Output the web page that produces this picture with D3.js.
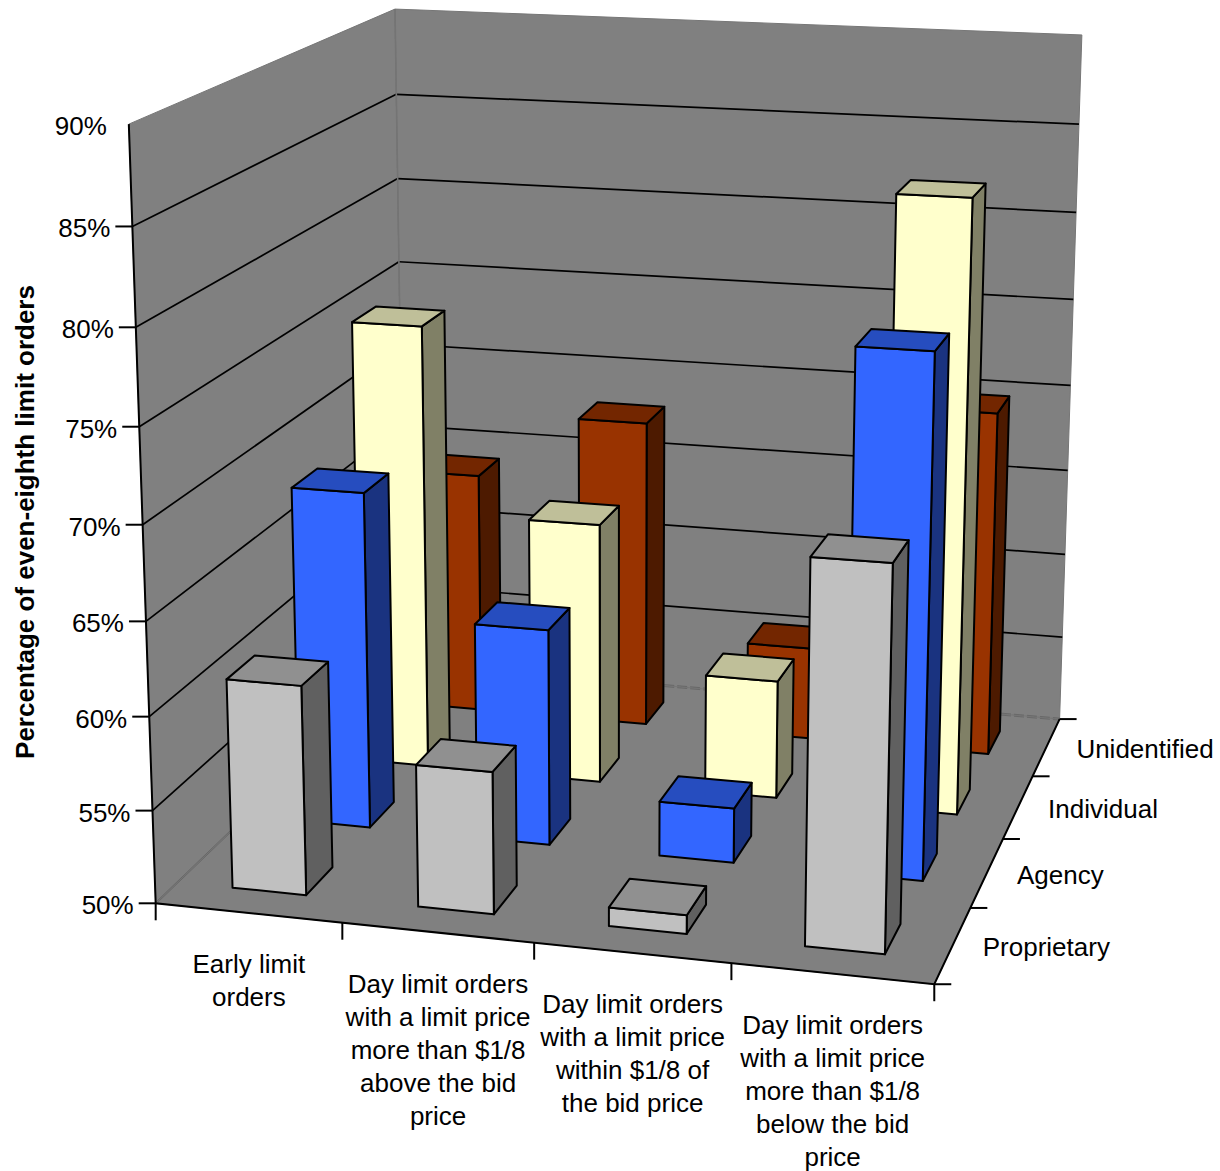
<!DOCTYPE html>
<html>
<head>
<meta charset="utf-8">
<script src="https://cdn.jsdelivr.net/npm/d3@7"></script>
<style>
html,body{margin:0;padding:0;background:#fff}
svg{display:block}
text{font-family:"Liberation Sans",Arial,sans-serif;fill:#000}
</style>
</head>
<body>
<svg id="chart" width="1220" height="1171"></svg>
<script>
// Chart content
const categories = [
  ["Early limit", "orders"],
  ["Day limit orders", "with a limit price", "more than $1/8", "above the bid", "price"],
  ["Day limit orders", "with a limit price", "within $1/8 of", "the bid price"],
  ["Day limit orders", "with a limit price", "more than $1/8", "below the bid", "price"]
];
const seriesNames = ["Proprietary", "Agency", "Individual", "Unidentified"];
const proprietary = [61.25, 57.6, 51, 70];
const agency = [68.6, 61.9, 53, 78.05];
const individual = [75.3, 64.8, 56.7, 83.9];
const unidentified = [64.2, 68, 55.4, 69.9];
const valueTicks = [50, 55, 60, 65, 70, 75, 80, 85, 90];
const axisTitle = "Percentage of even-eighth limit orders";

const seriesValues = [proprietary, agency, individual, unidentified];
const faceColors = [
  {front: "#c0c0c0", side: "#606060", top: "#909090"},
  {front: "#3366ff", side: "#1a3380", top: "#264dbf"},
  {front: "#ffffcc", side: "#808066", top: "#bfbf99"},
  {front: "#993300", side: "#4d1a00", top: "#732600"}
];
const WALL = "#808080";

// Scales into the unit cube of the plot box
const xBand = d3.scaleBand().domain(d3.range(4)).range([0, 1]).paddingInner(0.6).paddingOuter(0.3);
const yBand = d3.scaleBand().domain(d3.range(4)).range([0, 1]).paddingInner(0.6).paddingOuter(0.3);
const zScale = d3.scaleLinear().domain([50, 90]).range([0, 1]);

// Camera: a 3x4 projective matrix fitted by least squares to known points of the box.
// The front corner of the value axis is listed with extra weight.
const frontBottom = [0, 0, 0, 156, 903], frontTop = [0, 0, 1, 128, 124];
const boxPoints = [
  frontBottom, frontBottom, frontBottom, frontBottom, frontTop, frontTop, frontTop,
  [1, 0, 0, 934, 985], [1, 1, 0, 1060, 717], [0, 1, 0, 401, 665],
  [0, 1, 1, 396, 8], [1, 1, 1, 1083, 34],
  [0, 0, 0.125, 153, 811], [0, 0, 0.25, 150, 717], [0, 0, 0.375, 146, 621], [0, 0, 0.875, 132, 227],
  [0, 1, 0.875, 397, 95], [0, 1, 0.75, 399, 179], [0, 1, 0.625, 400, 261],
  [1, 1, 0.875, 1078, 125], [1, 1, 0.75, 1075, 213], [1, 1, 0.625, 1072, 300],
  [0.25, 0, 0, 344, 922], [0.5, 0, 0, 533, 943], [0.75, 0, 0, 730, 964],
  [1, 0.25, 0, 970, 907], [1, 0.5, 0, 1005, 839], [1, 0.75, 0, 1034, 777]
];
function solve(A, b) {
  const n = b.length, M = A.map((r, i) => [...r, b[i]]);
  for (let c = 0; c < n; c++) {
    let p = c;
    for (let r = c + 1; r < n; r++) if (Math.abs(M[r][c]) > Math.abs(M[p][c])) p = r;
    [M[c], M[p]] = [M[p], M[c]];
    for (let r = 0; r < n; r++) {
      if (r === c) continue;
      const f = M[r][c] / M[c][c];
      for (let k = c; k <= n; k++) M[r][k] -= f * M[c][k];
    }
  }
  return M.map((r, i) => r[n] / r[i]);
}
function fitCamera(pts) {
  const rows = [], rhs = [];
  pts.forEach(([X, Y, Z, u0, v0]) => {
    const u = u0 / 1000, v = v0 / 1000;
    rows.push([X, Y, Z, 1, 0, 0, 0, 0, -u * X, -u * Y, -u * Z]); rhs.push(u);
    rows.push([0, 0, 0, 0, X, Y, Z, 1, -v * X, -v * Y, -v * Z]); rhs.push(v);
  });
  const N = d3.range(11).map(i => d3.range(11).map(j => d3.sum(rows, r => r[i] * r[j])));
  const B = d3.range(11).map(i => d3.sum(rows, (r, k) => r[i] * rhs[k]));
  return solve(N, B);
}
const cam = fitCamera(boxPoints);
function project(X, Y, Z) {
  const w = cam[8] * X + cam[9] * Y + cam[10] * Z + 1;
  return [
    1000 * (cam[0] * X + cam[1] * Y + cam[2] * Z + cam[3]) / w,
    1000 * (cam[4] * X + cam[5] * Y + cam[6] * Z + cam[7]) / w
  ];
}

const svg = d3.select("#chart");
const outline = d3.line();
const poly = pts => outline(pts) + "Z";

// Walls and floor
const walls = svg.append("g");
const wallFaces = [
  [[0,0,0],[0,1,0],[0,1,1],[0,0,1]],
  [[0,1,0],[1,1,0],[1,1,1],[0,1,1]],
  [[0,0,0],[1,0,0],[1,1,0],[0,1,0]]
];
walls.selectAll("path").data(wallFaces).join("path")
  .attr("d", f => poly(f.map(p => project(...p))))
  .attr("fill", WALL).attr("stroke", "#767676").attr("stroke-width", 1);

// Seam lines where the floor meets the walls, a pale double rule
const seams = svg.append("g").attr("fill", "none").attr("stroke", "#5e5e5e").attr("stroke-width", 0.7);
[[[0,0,0],[0,1,0]], [[0,1,0],[1,1,0]]].forEach(([a, b], k) => {
  [-1, 1].forEach(o => {
    const pa = project(...a), pb = project(...b);
    seams.append("path").attr("d", outline([[pa[0], pa[1] + o], [pb[0], pb[1] + o]]))
      .attr("stroke-dasharray", k ? "10 3" : null);
  });
});

// Gridlines on both walls
const grid = svg.append("g").attr("fill", "none").attr("stroke", "#000").attr("stroke-width", 1.7);
valueTicks.slice(1, -1).forEach(v => {
  const z = zScale(v);
  grid.append("path").attr("d", outline([project(0,0,z), project(0,1,z)]));
  grid.append("path").attr("d", outline([project(0,1,z), project(1,1,z)]));
});
svg.append("path").attr("d", outline([project(0,1,0), project(0,1,1)]))
  .attr("stroke", "#747474").attr("stroke-width", 1.6);

// Box edges and ticks
const axes = svg.append("g").attr("fill", "none").attr("stroke", "#000").attr("stroke-width", 2);
axes.append("path").attr("d", outline([project(0,0,1), project(0,0,0), project(1,0,0), project(1,1,0)]));
valueTicks.slice(0, -1).forEach(v => {
  const p = project(0, 0, zScale(v));
  axes.append("path").attr("d", outline([[p[0] - 17, p[1]], p]));
});
d3.range(5).forEach(i => {
  const p = project(i / 4, 0, 0);
  axes.append("path").attr("d", outline([p, [p[0], p[1] + 17]]));
});
d3.range(5).forEach(i => {
  const p = project(1, i / 4, 0);
  axes.append("path").attr("d", outline([p, [p[0] + 17, p[1]]]));
});

// Bars, painted from the back row forward
const bars = svg.append("g").attr("stroke", "#000").attr("stroke-width", 2).attr("stroke-linejoin", "round");
d3.range(3, -1, -1).forEach(s => {
  seriesValues[s].forEach((value, c) => {
    const x0 = xBand(c), x1 = x0 + xBand.bandwidth();
    const y0 = yBand(s), y1 = y0 + yBand.bandwidth();
    const z = zScale(value);
    const g = bars.append("g");
    g.append("path").attr("fill", faceColors[s].side)
      .attr("d", poly([[x1,y0,0],[x1,y1,0],[x1,y1,z],[x1,y0,z]].map(p => project(...p))));
    g.append("path").attr("fill", faceColors[s].front)
      .attr("d", poly([[x0,y0,0],[x1,y0,0],[x1,y0,z],[x0,y0,z]].map(p => project(...p))));
    g.append("path").attr("fill", faceColors[s].top)
      .attr("d", poly([[x0,y0,z],[x1,y0,z],[x1,y1,z],[x0,y1,z]].map(p => project(...p))));
  });
});

// Text
const FONT = 26, LINE = 33;
const labels = svg.append("g").attr("font-size", FONT);
valueTicks.forEach(v => {
  const p = project(0, 0, zScale(v));
  labels.append("text").attr("x", p[0] - 22).attr("y", p[1] + 11)
    .attr("text-anchor", "end").text(v + "%");
});
categories.forEach((lines, c) => {
  const p = project((c + 0.5) / 4, 0, 0);
  lines.forEach((line, i) => {
    labels.append("text").attr("x", p[0] + 0.5).attr("y", p[1] + 60 + i * LINE)
      .attr("text-anchor", "middle").text(line);
  });
});
seriesNames.forEach((name, s) => {
  const p = project(1, (s + 0.5) / 4, 0);
  labels.append("text").attr("x", p[0] + 30).attr("y", p[1] + 11).text(name);
});
svg.append("text")
  .attr("transform", "translate(34,522) rotate(-90)")
  .attr("text-anchor", "middle").attr("font-size", 26).attr("font-weight", "bold")
  .text(axisTitle);
</script>
</body>
</html>
